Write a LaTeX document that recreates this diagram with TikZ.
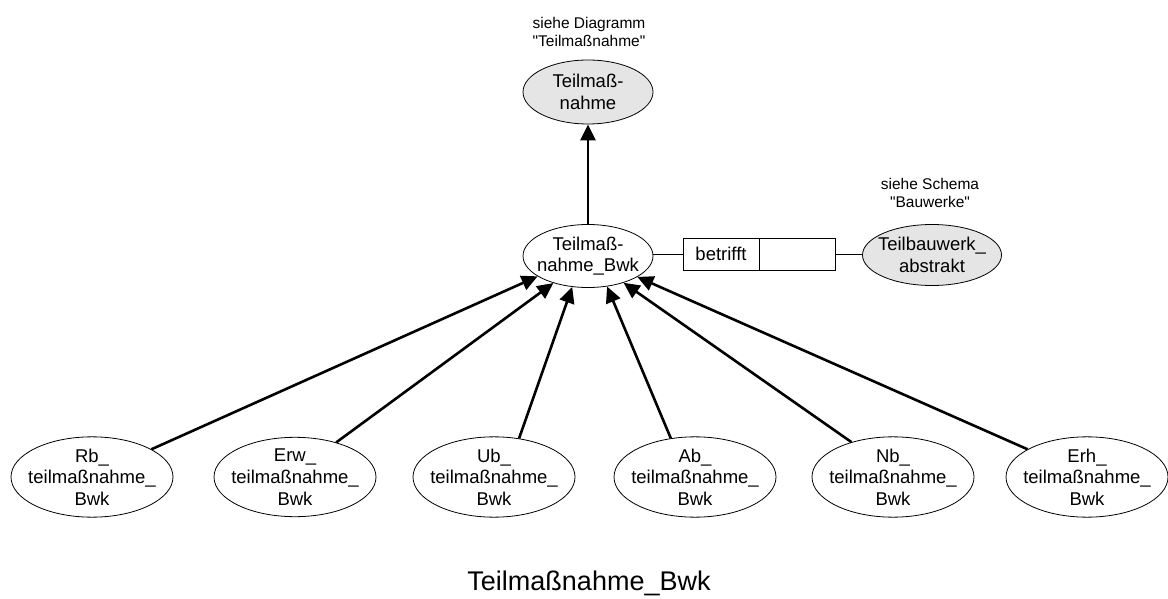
\documentclass[tikz,border=0pt]{standalone}
\usepackage{fontspec}
\setmainfont{Liberation Sans}
\usetikzlibrary{arrows.meta,positioning,shapes.geometric}

\begin{document}
\begin{tikzpicture}[x=1pt,y=-1pt,
    ent/.style={ellipse, draw, line width=0.8pt, inner xsep=-8pt, inner ysep=0pt, align=center, font=\fontsize{18.5}{21.7}\selectfont},
    extent/.style={ent, fill=gray!20},
    isa/.style={-{Triangle[length=16pt,width=15pt]}, line width=2.6pt},
    relbox/.style={draw, line width=0.8pt, minimum width=76pt, minimum height=32pt, inner sep=0pt, font=\fontsize{18.5}{21.7}\selectfont},
    note/.style={align=center, font=\fontsize{15.5}{18.3}\selectfont}]

    % Frame
    \useasboundingbox (0,0) rectangle (1168,599);

    % Upper entity (other diagram)
    \node[extent, minimum width=130pt, minimum height=64pt] (tm) at (588,92) {Teilmaß-\\nahme};
    \node[note] (tmnote) at (589,32) {siehe Diagramm\\\textquotedbl Teilmaßnahme\textquotedbl};

    % Main entity
    \node[ent, minimum width=130pt, minimum height=63pt] (bwk) at (588,256) {Teilmaß-\\nahme\_Bwk};

    % Relation
    \node[relbox] (betr) at (721,254) {betrifft};
    \node[relbox, right=0pt of betr] (betrx) {};
    \node[extent, minimum width=139pt, minimum height=61pt] (tbw) at (932,255) {Teilbauwerk\_\\abstrakt};
    \node[note] (tbwnote) at (930,193) {siehe Schema\\\textquotedbl Bauwerke\textquotedbl};
    \draw[line width=0.8pt] (bwk.east |- betr.west) -- (betr.west);
    \draw[line width=0.8pt] (betrx.east) -- (tbw.west |- betrx.east);

    % Subtypes
    \foreach \n/\x/\pre in {rb/92/Rb, erw/295/Erw, ub/494/Ub, ab/695/Ab, nb/893/Nb, erh/1087/Erh}
        \node[ent, minimum width=162pt, minimum height=70pt] (\n) at (\x,477) {\pre\_\\teilmaßnahme\_\\Bwk};

    % Generalisation
    \draw[isa] (bwk) -- (tm);
    \foreach \n/\a/\b in {rb/25/202, erw/40/218, ub/57/243, ab/122/302, nb/140/323, erh/155/337}
        \draw[isa] (\n.\a) -- (bwk.\b);

    % Title
    \node[font=\fontsize{27}{32}\selectfont] (title) at (589,583) {Teilmaßnahme\_Bwk};

\end{tikzpicture}
\end{document}
